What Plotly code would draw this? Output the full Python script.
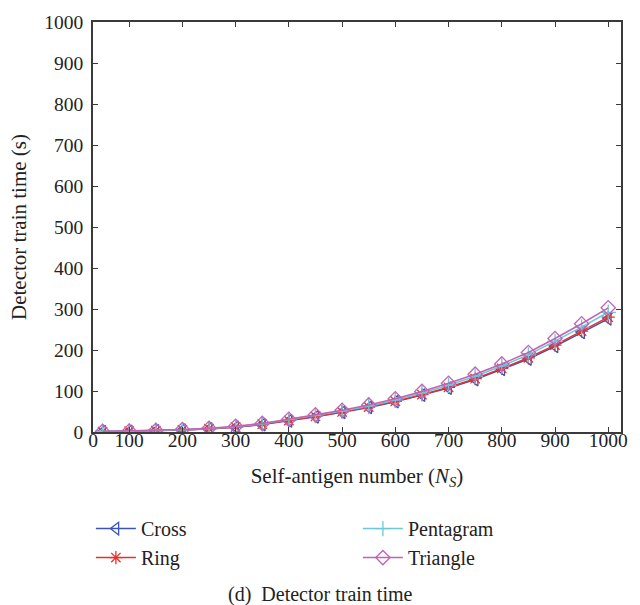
import plotly.graph_objects as go

# Self-antigen number N_S
ns = [50, 100, 150, 200, 250, 300, 350, 400, 450, 500,
      550, 600, 650, 700, 750, 800, 850, 900, 950, 1000]

# Detector train time (s) for each self-antigen shape
cross = [0.9, 1.8, 3.0, 4.8, 7.5, 11.5, 18, 27, 37, 48,
         60, 74, 90, 107, 128, 153, 178, 209, 243, 276]
ring = [1.0, 2.0, 3.3, 5.0, 8.0, 12, 19, 28, 38, 49,
        61, 75, 91, 109, 130, 155, 181, 212, 246, 280]
pentagram = [1.2, 2.2, 3.6, 5.5, 8.5, 13, 20, 30, 40, 51,
             63, 78, 95, 114, 136, 161, 188, 221, 256, 292]
triangle = [1.5, 2.5, 4.0, 6.0, 9.0, 14, 21, 31, 42, 53,
            66, 81, 99, 119, 141, 166, 194, 228, 264, 303]

x_ticks = [32, 100, 200, 300, 400, 500, 600, 700, 800, 900, 1000]
x_tick_text = ["0", "100", "200", "300", "400", "500", "600", "700", "800", "900", "1000"]
y_ticks = [0, 100, 200, 300, 400, 500, 600, 700, 800, 900, 1000]

FONT = "Liberation Serif"

series = [
    ("Cross", cross, "#3a55b4", "triangle-left-open", 1),
    ("Ring", ring, "#e8302a", "asterisk-open", 3),
    ("Pentagram", pentagram, "#6cc8d8", "cross-thin-open", 2),
    ("Triangle", triangle, "#c163b5", "diamond-open", 4),
]

fig = go.Figure()
for name, vals, color, symbol, rank in series:
    fig.add_trace(go.Scatter(
        x=ns, y=vals, name=name, mode="lines+markers",
        line=dict(color=color, width=1.5),
        marker=dict(symbol=symbol, size=11, color=color,
                    line=dict(color=color, width=1.3)),
        legendrank=rank,
    ))

axis_common = dict(
    showline=True, linecolor="#3a3a3a", linewidth=1.5, mirror="ticks",
    ticks="inside", ticklen=5, tickwidth=1.2, tickcolor="#3a3a3a",
    showgrid=False, zeroline=False,
    tickfont=dict(family=FONT, size=19.5, color="#222"),
)

fig.update_xaxes(
    range=[32, 1024], tickmode="array", tickvals=x_ticks, ticktext=x_tick_text,
    ticklabelstandoff=-10,
    title=dict(text="Self-antigen number (<i>N<sub>S</sub></i>)",
               font=dict(family=FONT, size=21, color="#222"), standoff=18),
    **axis_common,
)
fig.update_yaxes(
    range=[0, 1000], tickmode="array", tickvals=y_ticks,
    ticklabelstandoff=4,
    title=dict(text="Detector train time (s)",
               font=dict(family=FONT, size=21, color="#222"), standoff=12),
    **axis_common,
)

fig.add_annotation(
    text="(d)  Detector train time", xref="paper", yref="paper",
    x=0.43, y=-0.396, xanchor="center", yanchor="middle", showarrow=False,
    font=dict(family=FONT, size=20, color="#222"),
)

fig.update_layout(
    width=640, height=605,
    margin=dict(l=93, r=18, t=17, b=173),
    paper_bgcolor="white", plot_bgcolor="white",
    showlegend=True,
    legend=dict(
        orientation="h", x=-0.004, y=-0.188, xanchor="left", yanchor="top",
        entrywidth=212, entrywidthmode="pixels", traceorder="normal",
        font=dict(family=FONT, size=20, color="#222"),
        itemwidth=40, tracegroupgap=0, bgcolor="rgba(0,0,0,0)",
    ),
)

fig.write_html("out.html")
